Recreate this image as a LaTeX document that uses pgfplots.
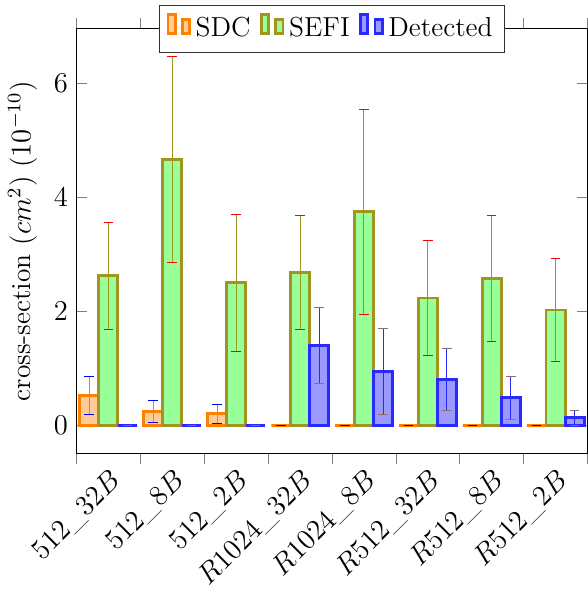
\documentclass[border=0pt]{standalone}
\usepackage{pgfplots}
\pgfplotsset{compat=1.18}
\definecolor{sdcdraw}{RGB}{255,128,0}
\definecolor{sdcfill}{RGB}{255,204,153}
\definecolor{sefidraw}{RGB}{160,150,30}
\definecolor{sefifill}{RGB}{153,255,153}
\definecolor{detdraw}{RGB}{40,40,255}
\definecolor{detfill}{RGB}{153,153,255}
\definecolor{detcap}{RGB}{150,110,90}
\newcommand{\lbl}{\fontsize{11.5}{14}\selectfont}

\begin{document}
\begin{tikzpicture}[trim axis right]
\begin{axis}[
  scale only axis,
  width=214pt, height=178pt,
  ybar=0pt, bar width=8pt,
  xmin=-0.5, xmax=7.5,
  ymin=-0.5, ymax=6.95,
  xtick={-0.5,0.5,...,7.5},
  x tick label as interval,
  xticklabels={$512\_32B$,$512\_8B$,$512\_2B$,$R1024\_32B$,$R1024\_8B$,$R512\_32B$,$R512\_8B$,$R512\_2B$},
  xticklabel style={rotate=45, anchor=north east, inner sep=1pt},
  tick label style={font=\lbl},
  label style={font=\lbl},
  xtick align=outside,
  ytick={0,2,4,6},
  ylabel={cross-section ($cm^2$) ($10^{-10}$)},
  legend columns=-1,
  legend style={at={(0.5,1)}, anchor=center, draw=black!80, font=\lbl,
    inner ysep=3pt,
    /tikz/every even column/.append style={column sep=2pt}},
]
% SDC
\addplot[draw=sdcdraw, fill=sdcfill, very thick,
  error bars/.cd, y dir=both, y explicit,
  error bar style={sdcdraw, thin},
  error mark options={rotate=90, blue, mark size=2pt, thin}]
  coordinates {(0,0.52) +- (0,0.34) (1,0.24) +- (0,0.20) (2,0.20) +- (0,0.17)
    (3,0) +- (0,0) (4,0) +- (0,0) (5,0) +- (0,0) (6,0) +- (0,0) (7,0) +- (0,0)};
\addlegendentry{SDC}
% SEFI
\addplot[draw=sefidraw, fill=sefifill, very thick,
  error bars/.cd, y dir=both, y explicit,
  error bar style={sefidraw, thin},
  error mark options={rotate=90, red, mark size=2pt, thin}]
  coordinates {(0,2.62) +- (0,0.94) (1,4.66) +- (0,1.80) (2,2.50) +- (0,1.20)
    (3,2.68) +- (0,1.00) (4,3.74) +- (0,1.80) (5,2.23) +- (0,1.00)
    (6,2.57) +- (0,1.10) (7,2.02) +- (0,0.90)};
\addlegendentry{SEFI}
% Detected
\addplot[draw=detdraw, fill=detfill, very thick,
  error bars/.cd, y dir=both, y explicit,
  error bar style={detdraw, thin},
  error mark options={rotate=90, detcap, mark size=2pt, thin}]
  coordinates {(0,0) +- (0,0) (1,0) +- (0,0) (2,0) +- (0,0)
    (3,1.40) +- (0,0.67) (4,0.94) +- (0,0.75) (5,0.80) +- (0,0.55)
    (6,0.48) +- (0,0.38) (7,0.13) +- (0,0.13)};
\addlegendentry{Detected}
\end{axis}
\path (rel axis cs:0,1) ++(0,12pt);
\end{tikzpicture}
\end{document}
